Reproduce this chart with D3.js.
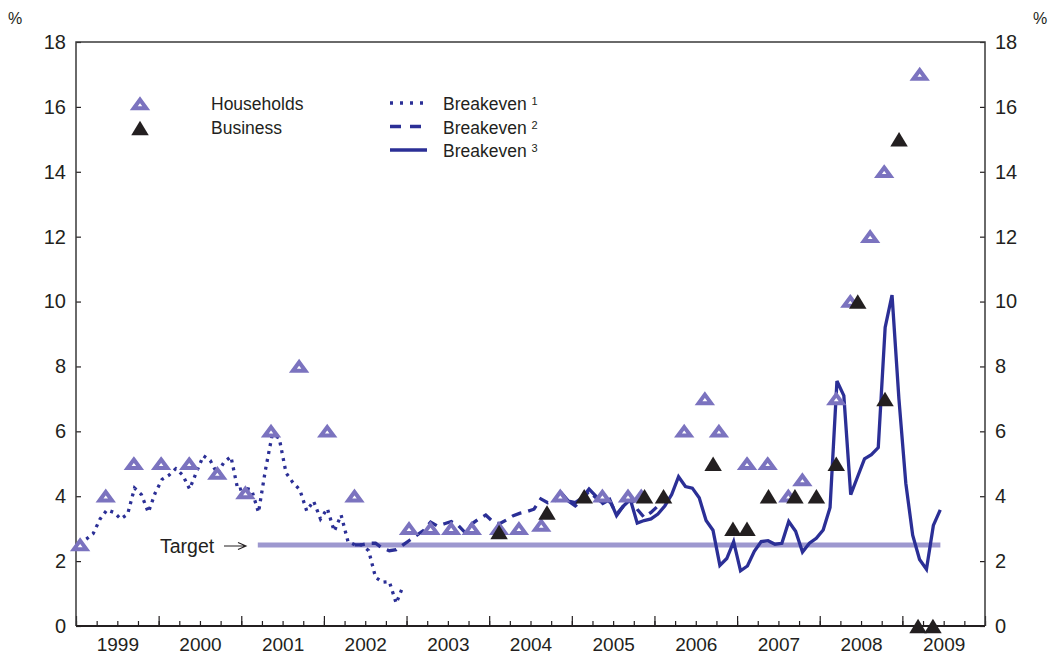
<!DOCTYPE html>
<html>
<head>
<meta charset="utf-8">
<script src="https://cdn.jsdelivr.net/npm/d3@7"></script>
<style>
	body { margin: 0; background: #fff; }
	svg text { font-family: "Liberation Sans", Arial, sans-serif; fill: #231f20; }
	.axis path { display: none; }
	.axis line { stroke: #231f20; stroke-width: 1.2; }
</style>
</head>
<body>
<div id="chart"></div>
<script>

// dotted breakeven, monthly from Jan 1999
var breakeven1Start = 1999;
var breakeven1 = [2.55, 2.68, 2.85, 3.3, 3.58, 3.5, 3.3, 3.45, 4.25, 4.05, 3.5, 4.1,
	4.52, 4.65, 4.85, 4.65, 4.22, 4.75, 5.25, 5.1, 4.7, 5.05, 5.22, 4.2,
	4.25, 4.2, 3.5, 4.8, 5.9, 5.8, 4.72, 4.42, 4.2, 3.55, 3.85, 3.3,
	3.62, 2.92, 3.42, 2.6, 2.5, 2.5, 2.32, 1.5, 1.35, 1.37, 0.7, 1.23];

// dashed breakeven, monthly from May 2002
var breakeven2Start = 2002 + 4 / 12;
var breakeven2 = [2.5, 2.5, 2.55, 2.55, 2.4, 2.32, 2.35, 2.5,
	2.65, 2.8, 2.95, 3.2, 3.08, 3.15, 3.22, 3.1, 2.88, 3.15, 3.3, 3.42,
	3.22, 3.15, 3.27, 3.4, 3.48, 3.53, 3.6, 3.92, 3.8, 3.85, 4.0, 3.85,
	3.7, 3.9, 4.15, 3.95, 3.8, 3.85, 3.45, 3.7, 3.95, 3.6, 3.35, 3.5,
	3.7, 3.92];

// solid breakeven, monthly from Oct 2004
var breakeven3Start = 2004 + 9 / 12;
var breakeven3 = [3.85, 4.1, 3.85,
	3.8, 3.95, 4.22, 4.0, 3.78, 3.9, 3.4, 3.7, 3.9, 3.17, 3.25, 3.3,
	3.45, 3.7, 4.05, 4.6, 4.3, 4.25, 3.95, 3.25, 2.95, 1.87, 2.08, 2.6,
	1.7, 1.85, 2.3, 2.6, 2.63, 2.52, 2.55, 3.22, 2.92, 2.28, 2.55, 2.7,
	2.96, 3.65, 7.55, 7.1, 4.05, 4.6, 5.15, 5.28, 5.5, 9.2, 10.2, 7.0,
	4.4, 2.8, 2.05, 1.75, 3.1, 3.58];

// survey points (decimal years)
var householdDates = [1999.05, 1999.36, 1999.70, 2000.03, 2000.37, 2000.71, 2001.05, 2001.36, 2001.70, 2002.04,
	2002.37, 2003.03, 2003.29, 2003.54, 2003.79, 2004.12, 2004.36, 2004.63, 2004.86, 2005.37,
	2005.68, 2005.84, 2006.36, 2006.61, 2006.78, 2007.12, 2007.37, 2007.62, 2007.79, 2008.20,
	2008.37, 2008.61, 2008.78, 2009.21];
var householdValues = [2.5, 4.0, 5.0, 5.0, 5.0, 4.7, 4.1, 6.0, 8.0, 6.0,
	4.0, 3.0, 3.0, 3.0, 3.0, 3.0, 3.0, 3.1, 4.0, 4.0,
	4.0, 4.0, 6.0, 7.0, 6.0, 5.0, 5.0, 4.0, 4.5, 7.0,
	10.0, 12.0, 14.0, 17.0];

var businessDates = [2004.12, 2004.70, 2005.15, 2005.88, 2006.11, 2006.71, 2006.95, 2007.12, 2007.38, 2007.70,
	2007.96, 2008.20, 2008.46, 2008.79, 2008.96, 2009.19, 2009.37];
var businessValues = [2.9, 3.5, 4.0, 4.0, 4.0, 5.0, 3.0, 3.0, 4.0, 4.0,
	4.0, 5.0, 10.0, 7.0, 15.0, 0, 0];

var target = [[2001.2, 2.5], [2009.46, 2.5]];

var years = d3.range(1999, 2011);
var yTicks = d3.range(0, 19, 2);

var legendMarkers = ["Households", "Business"];
var legendLines = ["Breakeven", "Breakeven", "Breakeven"];
var legendSup = ["1", "2", "3"];

var Chart = function() {

	var svg, x, y,
		left = 76, right = 985, top = 42, bottom = 626,
		lineColor = "#2b2f96",
		hhColor = "#7b73bf",
		bizColor = "#231f20",
		targetColor = "#9d98cf";

	// triangle centred on its box, not its centroid
	var triangle = function(w, h) {
		return "M0," + (-h / 2) + "L" + (w / 2) + "," + (h / 2) + "L" + (-w / 2) + "," + (h / 2) + "Z";
	}

	var monthly = function(start, values) {
		return values.map(function(v, i) { return [start + i / 12 + 1 / 24, v]; });
	}

	var initialize = function() {
		svg = d3.select("#chart").append("svg")
		.attr("width", 1059)
		.attr("height", 658);

		x = d3.scaleLinear().domain([1999, 2010]).range([left, right]);
		y = d3.scaleLinear().domain([0, 18]).range([bottom, top]);
	}

	var drawAxes = function() {
		// y axes, ticks inside
		svg.append("g")
		.attr("class", "axis")
		.attr("transform", "translate(" + left + ",0)")
		.call(d3.axisLeft(y).tickValues(yTicks).tickSize(-5).tickSizeOuter(0).tickPadding(10))
		.selectAll("text").style("font-size", "20px").attr("fill", "#231f20");

		svg.append("g")
		.attr("class", "axis")
		.attr("transform", "translate(" + right + ",0)")
		.call(d3.axisRight(y).tickValues(yTicks).tickSize(-5).tickSizeOuter(0).tickPadding(10))
		.selectAll("text").style("font-size", "20px").attr("fill", "#231f20");

		// quarterly minor ticks and yearly major ticks, pointing up
		svg.append("g")
		.attr("class", "axis")
		.attr("transform", "translate(0," + bottom + ")")
		.call(d3.axisBottom(x).tickValues(d3.range(1999, 2010.01, 0.25)).tickSize(-5).tickSizeOuter(0).tickFormat(""));

		svg.append("g")
		.attr("class", "axis")
		.attr("transform", "translate(0," + bottom + ")")
		.call(d3.axisBottom(x).tickValues(years).tickSize(-10).tickSizeOuter(0).tickFormat(""));

		// year labels centred in each year
		var labels = svg.append("g")
		.attr("class", "axis")
		.attr("transform", "translate(0," + bottom + ")")
		.call(d3.axisBottom(x).tickValues(years.slice(0, -1).map(function(d) { return d + 0.5; }))
			.tickSize(0).tickPadding(12).tickFormat(function(d) { return Math.floor(d); }));
		labels.selectAll("text").style("font-size", "19px").attr("fill", "#231f20");

		// frame
		svg.append("path")
		.attr("d", "M" + left + "," + bottom + "V" + top + "H" + right + "V" + bottom)
		.attr("fill", "none")
		.attr("stroke", "#3a3a3a")
		.attr("stroke-width", 1.5);
		svg.append("line")
		.attr("x1", left).attr("x2", right)
		.attr("y1", bottom).attr("y2", bottom)
		.attr("stroke", "#231f20")
		.attr("stroke-width", 2.2);

		svg.append("text").attr("x", 8).attr("y", 24).style("font-size", "16px").text("%");
		svg.append("text").attr("x", 1033).attr("y", 24).style("font-size", "16px").text("%");
	}

	var drawData = function() {
		var line = d3.line()
		.x(function(d) { return x(d[0]); })
		.y(function(d) { return y(d[1]); });

		// target band
		svg.append("path")
		.attr("d", line(target))
		.attr("stroke", targetColor)
		.attr("stroke-width", 5)
		.attr("fill", "none");

		svg.append("text")
		.attr("x", 160).attr("y", 553)
		.style("font-size", "19.5px")
		.text("Target");
		svg.append("path")
		.attr("d", "M224,546H246M238,542.5L246,546L238,549.5")
		.attr("stroke", "#231f20")
		.attr("stroke-width", 1.1)
		.attr("fill", "none");

		var series = [
			{ data: monthly(breakeven1Start, breakeven1), dash: "3,5" },
			{ data: monthly(breakeven2Start, breakeven2), dash: "10,7" },
			{ data: monthly(breakeven3Start, breakeven3), dash: null }
		];

		svg.selectAll(".breakeven")
		.data(series)
		.enter()
		.append("path")
		.attr("class", "breakeven")
		.attr("d", function(d) { return line(d.data); })
		.attr("fill", "none")
		.attr("stroke", lineColor)
		.attr("stroke-width", 3.3)
		.attr("stroke-dasharray", function(d) { return d.dash; });

		// households: thick outlined triangles
		svg.selectAll(".hh")
		.data(d3.zip(householdDates, householdValues))
		.enter()
		.append("path")
		.attr("class", "hh")
		.attr("transform", function(d) { return "translate(" + x(d[0]) + "," + y(d[1]) + ")"; })
		.attr("d", triangle(12.5, 8.5))
		.attr("fill", "#fff")
		.attr("stroke", hhColor)
		.attr("stroke-width", 4);

		// business: solid triangles
		svg.selectAll(".biz")
		.data(d3.zip(businessDates, businessValues))
		.enter()
		.append("path")
		.attr("class", "biz")
		.attr("transform", function(d) { return "translate(" + x(d[0]) + "," + y(d[1]) + ")"; })
		.attr("d", triangle(17.5, 14.5))
		.attr("fill", bizColor);
	}

	var drawLegend = function() {
		var lg = svg.append("g").attr("class", "legend");

		lg.append("path")
		.attr("transform", "translate(140,104)")
		.attr("d", triangle(12.5, 8.5))
		.attr("fill", "#fff")
		.attr("stroke", hhColor)
		.attr("stroke-width", 4);
		lg.append("path")
		.attr("transform", "translate(140,128)")
		.attr("d", triangle(17.5, 14.5))
		.attr("fill", bizColor);

		lg.selectAll(".mk")
		.data(legendMarkers)
		.enter()
		.append("text")
		.attr("class", "mk")
		.attr("x", 211)
		.attr("y", function(d, i) { return 110 + i * 23.5; })
		.style("font-size", "17.5px")
		.text(function(d) { return d; });

		var dashes = ["3,7", "11,9", null];
		lg.selectAll(".ln")
		.data(legendLines)
		.enter()
		.append("line")
		.attr("class", "ln")
		.attr("x1", 390).attr("x2", 427)
		.attr("y1", function(d, i) { return 103 + i * 23.5; })
		.attr("y2", function(d, i) { return 103 + i * 23.5; })
		.attr("stroke", lineColor)
		.attr("stroke-width", 3.3)
		.attr("stroke-dasharray", function(d, i) { return dashes[i]; });

		var t = lg.selectAll(".lt")
		.data(legendLines)
		.enter()
		.append("text")
		.attr("class", "lt")
		.attr("x", 443)
		.attr("y", function(d, i) { return 110 + i * 23.5; })
		.style("font-size", "17.5px");
		t.append("tspan").text(function(d) { return d + " "; });
		t.append("tspan")
		.attr("dy", -5)
		.style("font-size", "11px")
		.text(function(d, i) { return legendSup[i]; });
	}

	return {
		initialize: initialize,
		drawAxes: drawAxes,
		drawData: drawData,
		drawLegend: drawLegend
	}
};

var chart = Chart();
chart.initialize();
chart.drawAxes();
chart.drawData();
chart.drawLegend();

</script>
</body>
</html>
